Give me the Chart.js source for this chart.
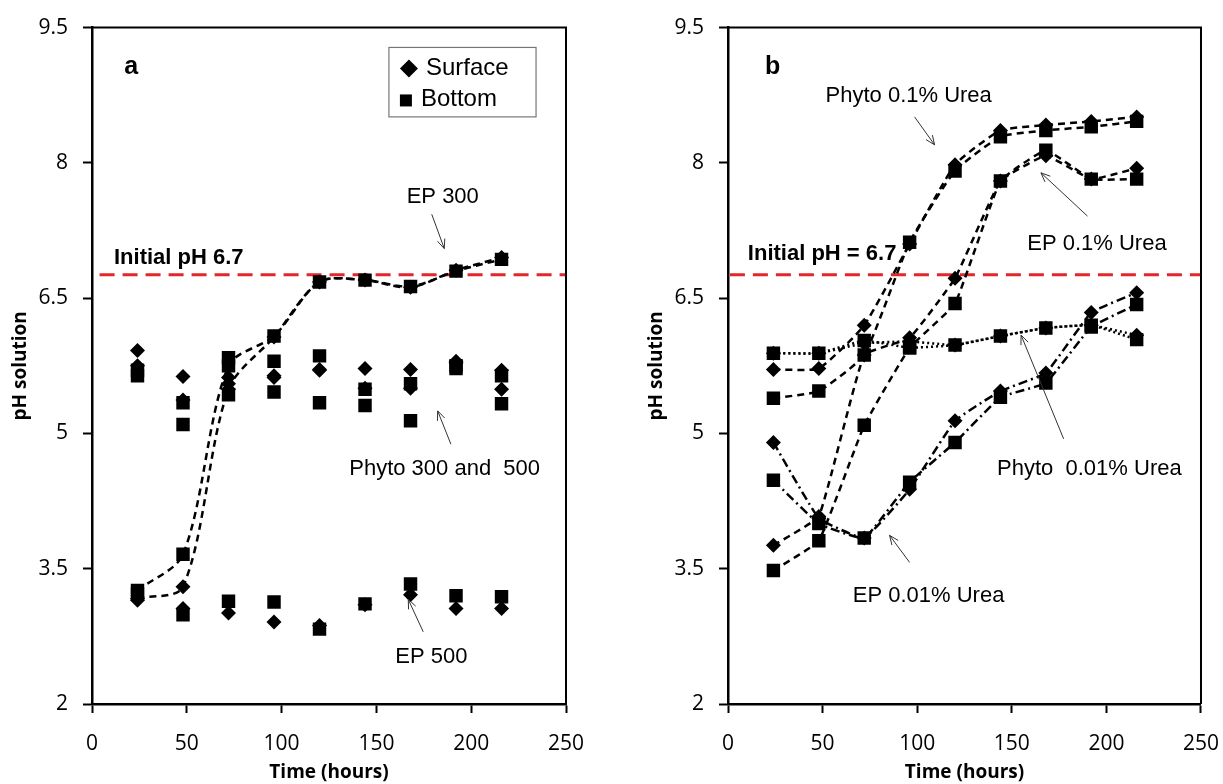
<!DOCTYPE html>
<html>
<head>
<meta charset="utf-8">
<script src="https://cdn.jsdelivr.net/npm/chart.js@4.4.0/dist/chart.umd.min.js"></script>
<style>
  body { margin: 0; background: #fff; width: 1223px; height: 784px; position: relative; overflow: hidden; }
  canvas { position: absolute; top: 0; }
  #chartA { left: 0; }
  #chartB { left: 636px; }
</style>
</head>
<body>
<canvas id="chartA" width="636" height="784"></canvas>
<canvas id="chartB" width="601" height="784"></canvas>
<script>
// sampling times (hours)
var hours = [24, 48, 72, 96, 120, 144, 168, 192, 216];
var initialPH = 6.76;

// panel a
var ep300Surface = [3.17, 3.30, 5.49, 6.07, 6.68, 6.70, 6.62, 6.81, 6.95];
var ep300Bottom = [3.26, 3.66, 5.75, 6.08, 6.68, 6.70, 6.63, 6.80, 6.93];
var ep500Surface = [3.15, 3.06, 3.01, 2.91, 2.87, 3.10, 3.21, 3.06, 3.06];
var ep500Bottom = [3.22, 2.99, 3.14, 3.13, 2.83, 3.11, 3.33, 3.20, 3.19];
var phyto300Surface = [5.92, 5.63, 5.62, 5.64, 5.71, 5.72, 5.71, 5.80, 5.70];
var phyto300Bottom = [5.70, 5.34, 5.84, 5.80, 5.86, 5.49, 5.55, 5.75, 5.64];
var phyto500Surface = [5.75, 5.37, 5.55, 5.62, 5.70, 5.50, 5.50, 5.78, 5.49];
var phyto500Bottom = [5.64, 5.10, 5.43, 5.46, 5.34, 5.31, 5.14, 5.72, 5.33];

// panel b
var phyto01Surface = [5.71, 5.72, 6.20, 7.10, 7.98, 8.36, 8.42, 8.46, 8.51];
var phyto01Bottom = [5.39, 5.47, 5.87, 7.12, 7.91, 8.29, 8.36, 8.40, 8.46];
var ep01Surface = [3.76, 4.08, 5.87, 6.06, 6.72, 7.80, 8.08, 7.82, 7.94];
var ep01Bottom = [3.48, 3.81, 5.09, 5.95, 6.44, 7.80, 8.14, 7.82, 7.82];
var phyto001Surface = [5.89, 5.89, 6.00, 6.02, 5.98, 6.08, 6.17, 6.20, 6.09];
var phyto001Bottom = [5.89, 5.89, 6.03, 5.95, 5.98, 6.08, 6.17, 6.20, 6.04];
var ep001Surface = [4.90, 4.06, 3.84, 4.38, 5.14, 5.47, 5.67, 6.34, 6.56];
var ep001Bottom = [4.48, 4.00, 3.84, 4.46, 4.90, 5.40, 5.56, 6.18, 6.43];

var yTicks = [2, 3.5, 5, 6.5, 8, 9.5];

var DASH = [7, 5];
var DOT = [2, 3];
var DASHDOT = [9, 4, 2, 4];

function series(vals, marker, dash, tension) {
  return {
    data: hours.map(function (h, i) { return { x: h, y: vals[i] }; }),
    showLine: dash != null,
    borderDash: dash || [],
    borderColor: "#000",
    borderWidth: 2.5,
    tension: tension || 0,
    pointStyle: marker === "d" ? "rectRot" : "rect",
    pointRadius: marker === "d" ? 7.5 : 9.5,
    pointBackgroundColor: "#000",
    pointBorderColor: "#000",
    pointBorderWidth: 0,
  };
}

function initialLine(start) {
  return {
    data: [{ x: start, y: initialPH }, { x: 250, y: initialPH }],
    showLine: true,
    borderColor: "#e3262b",
    borderWidth: 3,
    borderDash: [15, 8],
    pointRadius: 0,
  };
}

// draws the box, text labels, arrows and the little legend
var notesPlugin = {
  id: "notes",
  afterDatasetsDraw: function (chart, args, opts) {
    var ctx = chart.ctx, xs = chart.scales.x, ys = chart.scales.y, a = chart.chartArea;
    function px(v) { return xs.getPixelForValue(v); }
    function py(v) { return ys.getPixelForValue(v); }
    ctx.save();
    ctx.strokeStyle = "#000";
    ctx.lineWidth = 2;
    ctx.beginPath();
    ctx.moveTo(a.left, a.top);
    ctx.lineTo(a.right, a.top);
    ctx.lineTo(a.right, a.bottom);
    ctx.stroke();

    (opts.texts || []).forEach(function (t) {
      ctx.font = t.font;
      ctx.fillStyle = "#000";
      ctx.textAlign = t.align || "center";
      ctx.textBaseline = "middle";
      ctx.fillText(t.text, px(t.x), py(t.y));
    });

    ctx.strokeStyle = "#333";
    ctx.lineWidth = 1;
    (opts.arrows || []).forEach(function (r) {
      var x1 = px(r[0]), y1 = py(r[1]), x2 = px(r[2]), y2 = py(r[3]);
      var ang = Math.atan2(y2 - y1, x2 - x1);
      ctx.beginPath();
      ctx.moveTo(x1, y1);
      ctx.lineTo(x2, y2);
      ctx.moveTo(x2 - 10 * Math.cos(ang - 0.4), y2 - 10 * Math.sin(ang - 0.4));
      ctx.lineTo(x2, y2);
      ctx.lineTo(x2 - 10 * Math.cos(ang + 0.4), y2 - 10 * Math.sin(ang + 0.4));
      ctx.stroke();
    });

    var lg = opts.legend;
    if (lg) {
      var bx = px(lg.x0), by = py(lg.y0);
      var bw = px(lg.x1) - bx, bh = py(lg.y1) - by;
      ctx.strokeStyle = "#777";
      ctx.lineWidth = 1.2;
      ctx.strokeRect(bx, by, bw, bh);
      ctx.fillStyle = "#000";
      // diamond
      var dx = bx + 20, dy = by + 21;
      ctx.beginPath();
      ctx.moveTo(dx - 9, dy); ctx.lineTo(dx, dy - 9); ctx.lineTo(dx + 9, dy); ctx.lineTo(dx, dy + 9);
      ctx.closePath();
      ctx.fill();
      // square
      ctx.fillRect(bx + 11, by + 47, 12, 12);
      ctx.font = "24px 'Liberation Sans', Arial, sans-serif";
      ctx.textAlign = "left";
      ctx.textBaseline = "middle";
      ctx.fillText("Surface", bx + 37, by + 21);
      ctx.fillText("Bottom", bx + 32, by + 52);
    }
    ctx.restore();
  },
};

var tickFont = { family: "'Open Sans', sans-serif", size: 21 };
var titleFont = { family: "'Open Sans', sans-serif", size: 19, weight: "bold" };
var noteFont = "22px 'Liberation Sans', Arial, sans-serif";
var panelFont = "bold 25px 'Liberation Sans', Arial, sans-serif";
var initFont = "bold 22px 'Liberation Sans', Arial, sans-serif";

function makeScales() {
  return {
    x: {
      type: "linear",
      min: 0,
      max: 250,
      ticks: { stepSize: 50, font: tickFont, color: "#000", padding: 18 },
      grid: { drawOnChartArea: false, drawTicks: true, tickLength: 9, tickColor: "#000", tickWidth: 2 },
      border: { display: true, color: "#000", width: 2.5 },
      title: { display: true, text: "Time (hours)", font: titleFont, color: "#000", padding: { top: 0, bottom: 0 } },
      afterFit: function (s) { s.height = 80; },
    },
    y: {
      min: 2,
      max: 9.5,
      afterBuildTicks: function (s) { s.ticks = yTicks.map(function (v) { return { value: v }; }); },
      ticks: { font: tickFont, color: "#000", padding: 15 },
      grid: { drawOnChartArea: false, drawTicks: true, tickLength: 9, tickColor: "#000", tickWidth: 2 },
      border: { display: true, color: "#000", width: 2.5 },
      title: { display: true, text: "pH solution", font: titleFont, color: "#000", padding: { top: 9, bottom: 0 } },
      afterFit: function (s) { s.width = 92; },
    },
  };
}

var chartA = new Chart(document.getElementById("chartA"), {
  type: "scatter",
  data: {
    datasets: [
      series(ep300Surface, "d", DASH, 0.3),
      series(ep300Bottom, "s", DASH, 0.3),
      series(ep500Surface, "d"),
      series(ep500Bottom, "s"),
      series(phyto300Surface, "d"),
      series(phyto300Bottom, "s"),
      series(phyto500Surface, "d"),
      series(phyto500Bottom, "s"),
      initialLine(4),
    ],
  },
  options: {
    responsive: false,
    animation: false,
    layout: { padding: { top: 22, right: 70, left: 0, bottom: 0 } },
    scales: makeScales(),
    plugins: {
      legend: { display: false },
      tooltip: { enabled: false },
      notes: {
        texts: [
          { text: "a", x: 17, y: 9.06, font: panelFont, align: "left" },
          { text: "Initial pH 6.7", x: 11.6, y: 6.95, font: initFont, align: "left" },
          { text: "EP 300", x: 185, y: 7.62, font: noteFont },
          { text: "Phyto 300 and  500", x: 186, y: 4.61, font: noteFont },
          { text: "EP 500", x: 179, y: 2.52, font: noteFont },
        ],
        arrows: [
          [179.2, 7.43, 185.8, 7.05],
          [189.3, 4.88, 182.3, 5.25],
          [174.7, 2.80, 166.8, 3.16],
        ],
        legend: { x0: 156.6, y0: 9.28, x1: 234.2, y1: 8.51 },
      },
    },
  },
  plugins: [notesPlugin],
});

var chartB = new Chart(document.getElementById("chartB"), {
  type: "scatter",
  data: {
    datasets: [
      series(phyto01Surface, "d", DASH, 0.15),
      series(phyto01Bottom, "s", DASH, 0.15),
      series(ep01Surface, "d", DASH, 0.1),
      series(ep01Bottom, "s", DASH, 0.1),
      series(phyto001Surface, "d", DOT, 0.1),
      series(phyto001Bottom, "s", DOT, 0.1),
      series(ep001Surface, "d", DASHDOT, 0.1),
      series(ep001Bottom, "s", DASHDOT, 0.1),
      initialLine(1),
    ],
  },
  options: {
    responsive: false,
    animation: false,
    layout: { padding: { top: 22, right: 21, left: 0, bottom: 0 } },
    scales: makeScales(),
    plugins: {
      legend: { display: false },
      tooltip: { enabled: false },
      notes: {
        texts: [
          { text: "b", x: 19.5, y: 9.06, font: panelFont, align: "left" },
          { text: "Initial pH = 6.7", x: 10.5, y: 6.99, font: initFont, align: "left" },
          { text: "Phyto 0.1% Urea", x: 95.5, y: 8.74, font: noteFont },
          { text: "EP 0.1% Urea", x: 195, y: 7.10, font: noteFont },
          { text: "Phyto  0.01% Urea", x: 191, y: 4.61, font: noteFont },
          { text: "EP 0.01% Urea", x: 106, y: 3.20, font: noteFont },
        ],
        arrows: [
          [98.6, 8.51, 109.2, 8.20],
          [190, 7.41, 165.4, 7.89],
          [177.4, 4.94, 154.9, 6.09],
          [96, 3.57, 85.4, 3.87],
        ],
      },
    },
  },
  plugins: [notesPlugin],
});
</script>
</body>
</html>
